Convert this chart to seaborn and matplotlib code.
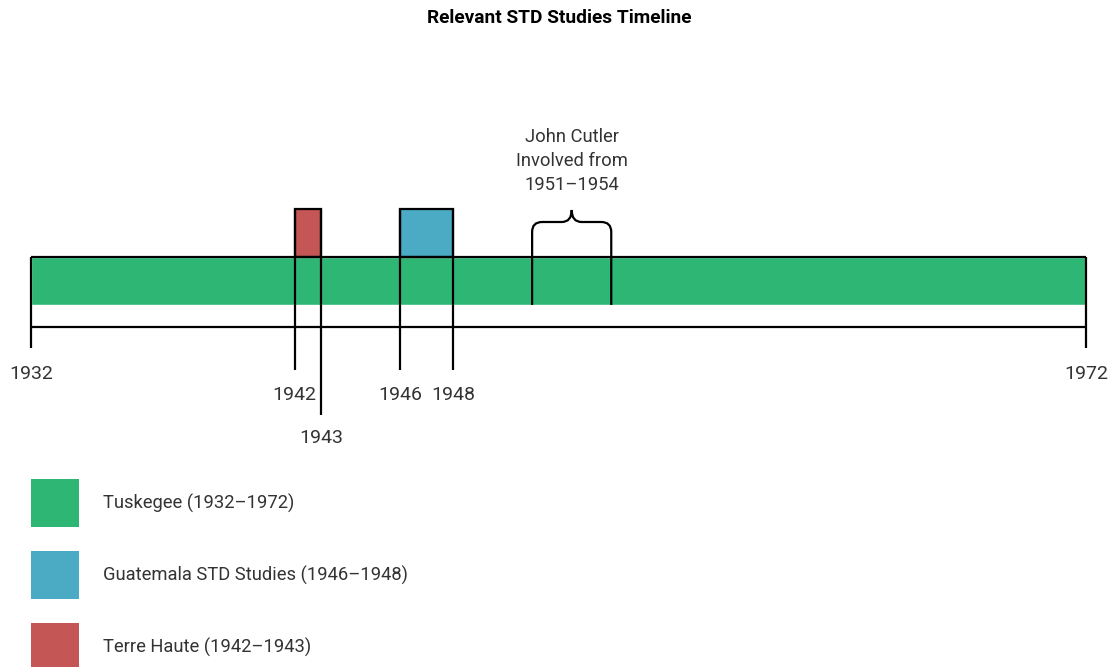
import matplotlib
matplotlib.use("Agg")
import matplotlib.pyplot as plt
from matplotlib.patches import Rectangle, PathPatch
from matplotlib.path import Path
import seaborn as sns

# Study spans
studies = ["Tuskegee", "Guatemala STD Studies", "Terre Haute"]
starts = [1932, 1946, 1942]
ends = [1972, 1948, 1943]
colors = ["#2eb774", "#4babc5", "#c45656"]

cutler_start = 1951
cutler_end = 1954
cutler_label = "John Cutler\nInvolved from\n1951\u20131954"

tick_years = [1932, 1942, 1943, 1946, 1948, 1972]
title = "Relevant STD Studies Timeline"

sns.set_theme(style="white")
plt.rcParams["font.family"] = ["Liberation Sans Narrow", "Roboto", "DejaVu Sans"]

W, H = 1112, 667
fig = plt.figure(figsize=(W / 100, H / 100), dpi=100)
ax = fig.add_axes([0, 0, 1, 1])
ax.axis("off")

# x in years, y in pixels from top
ypx = (ends[0] - starts[0]) / 1055
x0 = starts[0] - 31 * ypx
ax.set_xlim(x0, ends[0] + 26 * ypx)
ax.set_ylim(H, 0)


def px_to_year(x):
    return x0 + x * ypx


lw = 1.6
txt = "#333333"

# main bar plus its frame
ax.barh(281, ends[0] - starts[0], left=starts[0], height=48, color=colors[0], zorder=1)
ax.hlines([257, 327], starts[0], ends[0], color="black", lw=lw, zorder=3)

# shorter studies sit on top of the main bar
for s, e, c in zip(starts[1:], ends[1:], colors[1:]):
    ax.barh(233, e - s, left=s, height=48, color=c, edgecolor="black", lw=lw, zorder=2)

# tick lines and labels
short = set(starts[1:]) | set(ends[1:])
for yr in tick_years:
    top = 209 if yr in short else 257
    if yr in (starts[0], ends[0]):
        bottom, lab = 348, 374
    elif yr == 1943:
        bottom, lab = 415, 438
    else:
        bottom, lab = 370, 395
    ax.vlines(yr, top, bottom, color="black", lw=lw, zorder=3)
    ax.text(yr, lab, str(yr), ha="center", va="center", fontsize=14, color=txt)

# curly brace for Cutler
mid = (cutler_start + cutler_end) / 2
r = 10 * ypx
verts = [(cutler_start, 305), (cutler_start, 232), (cutler_start, 222), (cutler_start + r, 222),
         (mid - r, 222), (mid, 222), (mid, 210), (mid, 222), (mid + r, 222),
         (cutler_end - r, 222), (cutler_end, 222), (cutler_end, 232), (cutler_end, 305)]
codes = [Path.MOVETO, Path.LINETO, Path.CURVE3, Path.CURVE3, Path.LINETO, Path.CURVE3, Path.CURVE3,
         Path.CURVE3, Path.CURVE3, Path.LINETO, Path.CURVE3, Path.CURVE3, Path.LINETO]
ax.add_patch(PathPatch(Path(verts, codes), fill=False, color="black", lw=lw, zorder=4))
ax.text(mid, 161, cutler_label, ha="center", va="center", fontsize=13.2, color=txt,
        linespacing=1.45)

ax.text(px_to_year(559), 18, title, ha="center", va="center", fontsize=13.8,
        fontweight="bold", color="black")

# legend
for i, (name, s, e, c) in enumerate(zip(studies, starts, ends, colors)):
    top = 479 + 72 * i
    ax.add_patch(Rectangle((px_to_year(31), top), 48 * ypx, 48, color=c, lw=0))
    ax.text(px_to_year(103), top + 24, f"{name} ({s}\u2013{e})", ha="left", va="center",
            fontsize=13.2, color=txt)

fig.savefig("out.png", dpi=100)
